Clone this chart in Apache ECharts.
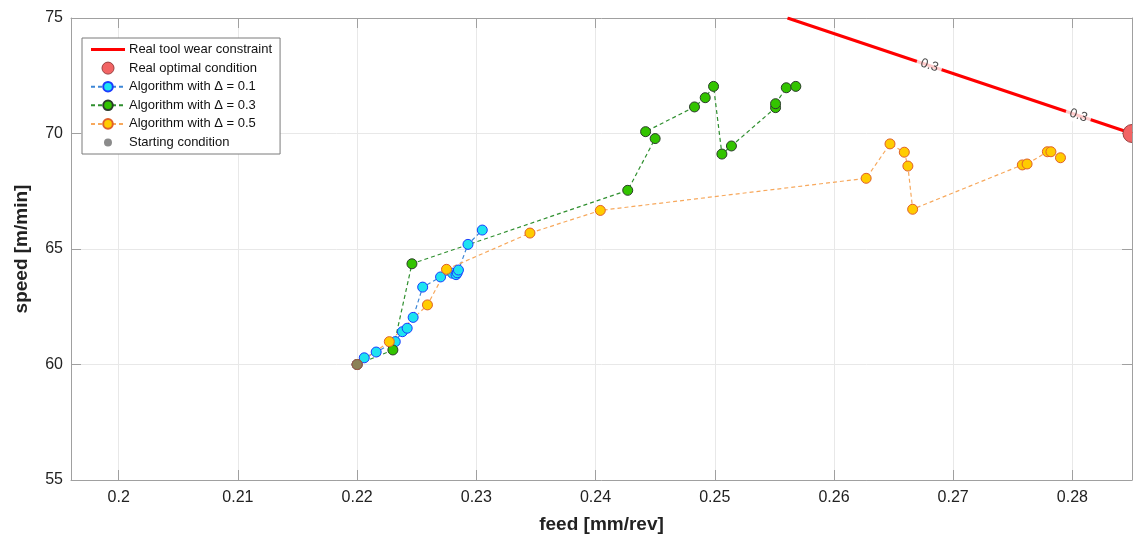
<!DOCTYPE html>
<html>
<head>
<meta charset="utf-8">
<script src="https://cdn.jsdelivr.net/npm/echarts@6/dist/echarts.min.js"></script>
<style>
html,body{margin:0;padding:0;background:#fff;}
#chart{width:1135px;height:536px;}
</style>
</head>
<body>
<div id="chart"></div>
<script>
// ---- data ----
const xTicks = [0.20, 0.21, 0.22, 0.23, 0.24, 0.25, 0.26, 0.27, 0.28];
const yTicks = [55, 60, 65, 70, 75];
const startPoint = [[0.22, 60]];
const algo01 = [[0.2206,60.29],[0.2216,60.54],[0.2232,60.99],[0.2238,61.42],[0.2242,61.57],[0.2247,62.04],[0.2255,63.35],[0.2270,63.79],[0.2280,63.95],[0.2283,63.89],[0.2284,63.97],[0.2285,64.09],[0.2293,65.20],[0.2305,65.82]];
const algo03 = [[0.2230,60.63],[0.2246,64.36],[0.2427,67.54],[0.2450,69.78],[0.2442,70.08],[0.2483,71.15],[0.2492,71.55],[0.2499,72.04],[0.2506,69.11],[0.2514,69.46],[0.2551,71.12],[0.2551,71.29],[0.2560,71.98],[0.2568,72.04]];
const algo05 = [[0.2227,60.99],[0.2259,62.58],[0.2275,64.12],[0.2345,65.69],[0.2404,66.67],[0.2627,68.06],[0.2647,69.55],[0.2659,69.19],[0.2662,68.59],[0.2666,66.72],[0.2758,68.64],[0.2762,68.68],[0.2779,69.21],[0.2782,69.21],[0.2790,68.95]];
const constraintLine = [[0.2561,75],[0.285,70]];
const optimum = [[0.285,70]];
const contourLabelPts = [[0.2680,72.95],[0.2805,70.78]];
const contourLevel = '0.3';
const names = ['Real tool wear constraint','Real optimal condition','Algorithm with \u0394 = 0.1','Algorithm with \u0394 = 0.3','Algorithm with \u0394 = 0.5','Starting condition'];

// ---- chart ----
const FONT = '"Liberation Sans", Arial, Helvetica, sans-serif';
const AX = '#a0a0a0';
const chart = echarts.init(document.getElementById('chart'), null, {renderer:'canvas'});
const fmtX = v => String(+(+v).toFixed(2));

function algoSeries(name, data, lineColor, fill, border) {
  return {
    name, type:'line', data: startPoint.concat(data),
    xAxisIndex:0, yAxisIndex:0,
    symbol:'circle', symbolSize:10, showSymbol:true,
    lineStyle:{color:lineColor, width:1.2, type:[4,3]},
    itemStyle:{color:fill, borderColor:border, borderWidth:1},
    clip:true, z:3
  };
}

const option = {
  animation:false,
  backgroundColor:'#fff',
  textStyle:{fontFamily:FONT},
  grid:{left:71, right:3, top:18, bottom:56, containLabel:false, outerBoundsMode:'none'},
  legend:{
    orient:'vertical', left:82, top:38,
    padding:[5,8,5,8], itemWidth:34, itemHeight:12, itemGap:5.6,
    backgroundColor:'#fff', borderColor:'#7a7a7a', borderWidth:1, borderRadius:0,
    textStyle:{fontFamily:FONT, fontSize:13, color:'#111', padding:[0,0,0,-1]},
    data:[
      {name:names[0], icon:'path://M0,0 L34,0 L34,3 L0,3 Z', itemStyle:{color:'#ff0000'}},
      {name:names[1], icon:'circle', itemStyle:{color:'#f26464', borderColor:'#9a4040', borderWidth:1}},
      {name:names[2]},
      {name:names[3]},
      {name:names[4]},
      {name:names[5], icon:'path://M0,0 M12,12 M6,2 A4,4 0 1,1 5.99,2 Z', itemStyle:{color:'#6e6e6e', borderWidth:0}}
    ]
  },
  xAxis:[{
    type:'value', min:0.196, max:0.285, position:'bottom',
    name:'feed [mm/rev]', nameLocation:'middle', nameGap:35,
    nameTextStyle:{fontFamily:FONT, fontSize:19, fontWeight:'bold', color:'#222'},
    axisLine:{show:true, onZero:false, lineStyle:{color:AX, width:1}},
    axisTick:{show:true, inside:true, length:10, customValues:xTicks, lineStyle:{color:AX}},
    axisLabel:{customValues:xTicks, formatter:fmtX, fontFamily:FONT, fontSize:16, color:'#222', margin:10},
    splitLine:{show:true, lineStyle:{color:'#e8e8e8', width:1}}
  },{
    type:'value', min:0.196, max:0.285, position:'top',
    axisLine:{show:true, onZero:false, lineStyle:{color:AX, width:1}},
    axisTick:{show:true, inside:true, length:10, customValues:xTicks, lineStyle:{color:AX}},
    axisLabel:{show:false}, splitLine:{show:false}
  }],
  yAxis:[{
    type:'value', min:55, max:75, interval:5, position:'left',
    name:'speed [m/min]', nameLocation:'middle', nameGap:40,
    nameTextStyle:{fontFamily:FONT, fontSize:19, fontWeight:'bold', color:'#222'},
    axisLine:{show:true, onZero:false, lineStyle:{color:AX, width:1}},
    axisTick:{show:true, inside:true, length:10, lineStyle:{color:AX}},
    axisLabel:{fontFamily:FONT, fontSize:16, color:'#222', margin:8},
    splitLine:{show:true, lineStyle:{color:'#e8e8e8', width:1}}
  },{
    type:'value', min:55, max:75, interval:5, position:'right',
    axisLine:{show:true, onZero:false, lineStyle:{color:AX, width:1}},
    axisTick:{show:true, inside:true, length:10, lineStyle:{color:AX}},
    axisLabel:{show:false}, splitLine:{show:false}
  }],
  series:[
    {
      name:names[0], type:'line', data:constraintLine, xAxisIndex:0, yAxisIndex:0,
      symbol:'none', showSymbol:false, clip:true,
      lineStyle:{color:'#ff0000', width:3}, itemStyle:{color:'#ff0000'}, z:2
    },
    {
      name:'contourLabels', type:'scatter', data:contourLabelPts, xAxisIndex:0, yAxisIndex:0,
      symbolSize:1, itemStyle:{color:'transparent'}, silent:true, z:4,
      label:{show:true, position:'inside', formatter:contourLevel, rotate:-18.5,
        fontFamily:FONT, fontSize:13, color:'#222', backgroundColor:'#fff', padding:[1,4]}
    },
    {
      name:names[1], type:'custom', data:optimum, xAxisIndex:0, yAxisIndex:0, clip:true, z:5,
      itemStyle:{color:'#f26464'},
      renderItem:(params, api) => {
        const p = api.coord([api.value(0), api.value(1)]);
        return {type:'circle', shape:{cx:p[0], cy:p[1], r:9},
          style:{fill:'#f26464', stroke:'#9a4040', lineWidth:1}};
      }
    },
    algoSeries(names[2], algo01, '#3d86d6', '#1ee3f0', '#1a3cff'),
    algoSeries(names[3], algo03, '#2f8f2f', '#33c400', '#2b3b2b'),
    algoSeries(names[4], algo05, '#f7a85c', '#ffcc00', '#e0602a'),
    {
      name:names[5], type:'scatter', data:startPoint, xAxisIndex:0, yAxisIndex:0,
      symbol:'circle', symbolSize:10, z:6,
      itemStyle:{color:'#6e6e6e', borderColor:'#8a5a50', borderWidth:1}
    }
  ]
};
chart.setOption(option);
</script>
</body>
</html>
